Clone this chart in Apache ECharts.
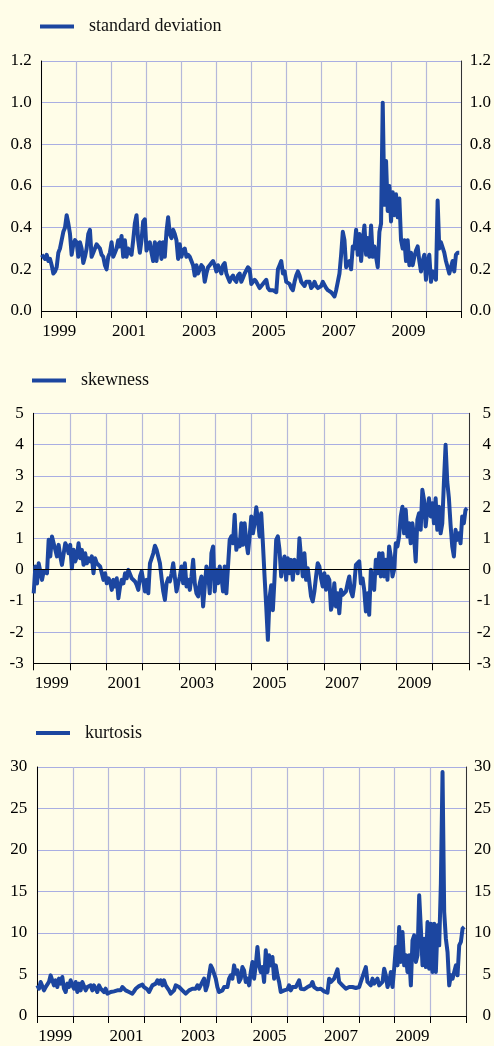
<!DOCTYPE html>
<html>
<head>
<meta charset="utf-8">
<script src="https://cdn.jsdelivr.net/npm/echarts@6/dist/echarts.min.js"></script>
<style>
  html, body { margin: 0; padding: 0; background: #fffde8; }
  #chart { width: 494px; height: 1046px; }
</style>
</head>
<body>
<div id="chart"></div>
<script>
// observations run evenly from the start of 1999 to late 2010
var DATE_START = 1999.0;
var DATE_END = 2010.95;
var YEARS = ['1999', '2000', '2001', '2002', '2003', '2004', '2005', '2006', '2007', '2008', '2009', '2010'];

var stdDev = [
  0.27,0.26,0.25,0.27,0.24,0.25,0.22,0.18,0.19,0.21,
  0.28,0.30,0.34,0.38,0.40,0.46,0.42,0.37,0.27,0.32,
  0.34,0.33,0.26,0.33,0.30,0.23,0.26,0.30,0.37,0.39,
  0.26,0.28,0.30,0.32,0.31,0.30,0.27,0.26,0.22,0.20,
  0.26,0.28,0.33,0.26,0.28,0.30,0.34,0.31,0.36,0.26,
  0.34,0.26,0.30,0.28,0.27,0.34,0.42,0.46,0.34,0.28,
  0.34,0.43,0.44,0.29,0.31,0.33,0.28,0.24,0.33,0.24,
  0.32,0.33,0.25,0.33,0.26,0.38,0.45,0.37,0.35,0.39,
  0.37,0.34,0.25,0.32,0.26,0.29,0.30,0.26,0.27,0.26,
  0.24,0.22,0.17,0.22,0.18,0.18,0.22,0.21,0.14,0.18,
  0.21,0.22,0.23,0.24,0.22,0.19,0.22,0.22,0.18,0.22,
  0.23,0.18,0.16,0.14,0.16,0.17,0.15,0.14,0.17,0.18,
  0.14,0.16,0.18,0.18,0.21,0.20,0.13,0.14,0.15,0.14,
  0.14,0.11,0.12,0.12,0.14,0.15,0.11,0.10,0.10,0.10,
  0.10,0.09,0.20,0.22,0.24,0.18,0.19,0.14,0.14,0.13,
  0.11,0.10,0.14,0.17,0.19,0.17,0.14,0.13,0.12,0.14,
  0.14,0.14,0.11,0.12,0.14,0.12,0.11,0.11,0.12,0.14,
  0.14,0.11,0.10,0.10,0.09,0.08,0.07,0.10,0.14,0.18,
  0.27,0.38,0.34,0.21,0.23,0.24,0.20,0.31,0.30,0.39,
  0.27,0.37,0.24,0.34,0.41,0.27,0.35,0.26,0.41,0.26,
  0.31,0.26,0.21,0.38,0.42,1.00,0.51,0.72,0.48,0.60,
  0.43,0.57,0.46,0.56,0.45,0.54,0.34,0.30,0.34,0.24,
  0.34,0.22,0.28,0.22,0.26,0.29,0.31,0.24,0.19,0.24,
  0.27,0.15,0.24,0.27,0.14,0.19,0.19,0.15,0.53,0.30,
  0.33,0.33,0.28,0.24,0.21,0.18,0.18,0.24,0.19,0.27,
  0.28,0.28
];

var skewness = [
  -0.76,0.10,-0.45,0.20,0.26,-0.33,-0.06,0.00,-0.12,0.95,
  0.42,1.06,1.06,0.63,0.42,0.79,0.42,0.15,0.10,0.84,
  0.74,0.52,0.79,0.04,0.63,0.26,0.42,0.84,0.36,0.63,
  0.15,0.52,0.20,0.36,0.26,0.42,-0.12,0.36,0.20,0.26,
  0.10,0.04,-0.33,-0.12,-0.44,-0.28,-0.38,-0.65,-0.33,-0.54,
  -0.28,-0.92,-0.54,-0.33,-0.44,-0.12,-0.28,-0.01,0.04,-0.28,
  -0.22,-0.38,-0.49,-0.65,-0.22,-0.06,-0.01,-0.70,-0.33,-0.76,
  0.20,0.36,0.52,0.76,0.63,0.42,0.20,-0.28,-0.70,-0.97,
  -0.44,-0.28,-0.38,-0.12,0.20,0.26,-0.70,-0.44,-0.22,0.10,
  -0.44,0.20,-0.54,-0.33,-0.65,-0.22,0.31,-0.44,-0.76,-0.86,
  -0.44,-0.22,-1.18,-0.54,0.10,-0.12,-0.76,0.52,0.74,-0.70,
  -0.01,-0.44,0.10,-0.22,-0.70,0.10,-0.76,0.10,0.95,1.06,
  0.84,1.75,0.63,0.95,0.74,1.48,0.79,1.48,0.90,0.52,
  1.06,1.70,1.16,1.48,1.99,1.59,1.06,1.80,0.84,-0.22,
  -1.18,-2.25,-0.90,-0.50,-1.30,-0.30,0.95,1.06,0.63,-0.22,
  0.20,0.42,-0.33,0.36,-0.12,0.31,-0.33,0.31,0.15,-0.12,
  1.00,0.36,-0.22,0.52,-0.33,0.04,-0.01,-0.86,-1.02,-0.70,
  -0.22,0.20,0.10,-0.28,-0.54,-0.12,-0.65,-0.22,-0.33,-1.29,
  -1.08,-0.44,-1.18,-0.76,-1.40,-0.65,-0.81,-0.76,-0.70,-0.44,
  -0.22,-0.70,-0.86,-0.49,0.15,0.10,0.26,-0.44,-0.28,-0.65,
  -1.34,-0.76,-1.45,-0.01,-0.44,-0.65,0.31,-0.12,0.52,-0.22,
  0.52,-0.22,0.31,-0.33,0.74,0.42,-0.22,-0.01,0.84,0.74,
  1.06,1.70,2.01,1.16,1.91,1.06,1.48,0.84,1.48,1.06,
  0.26,1.59,1.80,1.27,2.55,2.23,1.38,1.91,2.28,1.70,
  2.12,1.48,2.28,1.27,2.01,1.16,1.48,2.81,3.99,2.81,
  2.28,1.43,0.74,0.42,1.27,0.95,1.16,0.84,1.70,1.48,
  1.91,1.96
];

var kurtosis = [
  3.69,3.29,4.10,3.90,3.09,3.49,3.69,4.10,4.90,5.10,
  3.69,4.30,3.49,4.50,3.90,4.70,3.29,2.89,3.90,3.49,
  4.30,3.69,3.29,4.10,2.89,3.90,3.09,4.10,3.90,3.09,
  3.49,3.29,3.69,3.09,3.69,3.49,2.89,3.69,3.29,3.49,
  2.89,3.29,2.69,2.89,2.89,2.89,2.97,2.89,3.09,2.89,
  3.09,3.49,3.29,3.09,3.21,2.89,2.89,2.69,2.97,3.29,
  3.49,3.61,3.69,3.78,3.49,3.29,3.21,2.89,3.09,3.69,
  3.49,3.90,4.30,3.90,4.30,3.69,4.30,3.69,3.49,3.09,
  2.69,2.57,3.09,3.69,3.90,3.49,3.29,3.09,2.89,2.69,
  2.89,3.09,3.21,3.29,3.09,3.29,3.69,3.29,3.49,4.10,
  4.50,3.09,3.69,3.49,6.10,5.70,5.10,4.50,3.49,2.89,
  2.69,3.09,3.49,3.69,3.49,4.50,4.90,4.50,6.10,5.10,
  5.50,4.10,4.50,5.90,5.50,4.10,4.50,3.69,5.30,6.51,
  4.50,6.10,8.31,6.10,5.30,5.90,4.10,7.91,5.30,7.31,
  6.10,7.11,4.50,6.10,4.90,4.10,2.89,2.89,3.09,3.29,
  3.21,3.69,3.09,3.49,3.29,3.49,3.69,4.30,3.29,3.49,
  3.21,3.37,3.49,3.49,3.69,4.10,3.49,3.37,3.21,3.21,
  3.29,3.09,2.97,2.89,2.81,4.50,4.10,4.30,4.50,4.70,
  5.62,4.10,3.90,3.69,3.49,3.29,3.21,3.49,3.69,3.49,
  3.69,3.37,3.21,3.49,4.10,4.70,5.30,5.90,4.10,4.30,
  3.69,4.50,3.90,4.10,4.50,3.69,3.90,4.10,5.70,4.90,
  3.49,4.10,5.30,3.49,5.70,8.31,6.10,10.72,6.51,10.12,
  6.10,7.31,5.30,7.31,3.69,9.12,9.72,6.51,7.31,14.54,
  10.52,6.10,9.32,5.90,11.33,5.70,11.12,5.30,11.12,5.30,
  10.92,8.51,15.94,29.40,12.53,9.32,7.71,3.69,4.90,4.50,
  5.30,6.10,4.90,8.51,8.92,10.52,10.72
];

var LINE_COLOR = '#1c46a0';
var HGRID = '#a9aee2';
var VGRID = '#b5b8da';
var FONT = '"Liberation Serif", "Times New Roman", serif';

function toPairs(values) {
    var step = (DATE_END - DATE_START) / (values.length - 1);
    return values.map(function (v, i) {
        return [DATE_START + i * step, v];
    });
}

// one panel per statistic
var panels = [
    {name: 'standard deviation', values: stdDev, min: 0, max: 1.2, interval: 0.2, digits: 1,
        grid: {left: 41.7, top: 61, width: 420, height: 250}, legend: {left: 40, top: 17.5}, rightMargin: 30},
    {name: 'skewness', values: skewness, min: -3, max: 5, interval: 1, digits: 0,
        grid: {left: 33.7, top: 413.3, width: 436.3, height: 250}, legend: {left: 32, top: 371.5}, rightMargin: 22},
    {name: 'kurtosis', values: kurtosis, min: 0, max: 30, interval: 5, digits: 0,
        grid: {left: 37.3, top: 767, width: 429.4, height: 249}, legend: {left: 36, top: 724}, rightMargin: 25}
];

var option = {
    backgroundColor: '#fffde8',
    animation: false,
    grid: [],
    legend: [],
    xAxis: [],
    yAxis: [],
    series: []
};

panels.forEach(function (p, g) {
    option.grid.push(p.grid);
    option.legend.push({
        data: [p.name],
        left: p.legend.left,
        top: p.legend.top,
        padding: 0,
        icon: 'rect',
        itemWidth: 34,
        itemHeight: 4,
        selectedMode: false,
        textStyle: {fontFamily: FONT, fontSize: 18, color: '#111', padding: [0, 0, 0, 10]}
    });
    // value axis carrying the data, ticks and vertical grid
    option.xAxis.push({
        type: 'value', gridIndex: g, min: 1999, max: 2011, interval: 1,
        axisLine: {onZero: false, lineStyle: {color: '#000', width: 1}},
        axisTick: {length: 7, lineStyle: {color: '#000', width: 1}},
        axisLabel: {show: false},
        splitLine: {show: true, lineStyle: {color: VGRID, width: 1.2}}
    });
    // year labels centred in each year
    option.xAxis.push({
        type: 'category', gridIndex: g, data: YEARS, boundaryGap: true, position: 'bottom',
        axisLine: {show: false}, axisTick: {show: false}, splitLine: {show: false},
        axisLabel: {interval: 1, margin: 12, fontFamily: FONT, fontSize: 17, color: '#000'}
    });
    var fmt = function (v) { return v.toFixed(p.digits); };
    option.yAxis.push({
        type: 'value', gridIndex: g, position: 'left', min: p.min, max: p.max, interval: p.interval,
        axisLine: {show: true, onZero: false, lineStyle: {color: '#000', width: 1}},
        axisTick: {show: false},
        axisLabel: {margin: 10, fontFamily: FONT, fontSize: 17, color: '#000', formatter: fmt},
        splitLine: {show: true, lineStyle: {color: HGRID, width: 1}}
    });
    option.yAxis.push({
        type: 'value', gridIndex: g, position: 'right', min: p.min, max: p.max, interval: p.interval,
        axisLine: {show: true, onZero: false, lineStyle: {color: '#333', width: 1}},
        axisTick: {show: false},
        axisLabel: {margin: p.rightMargin, align: 'right', fontFamily: FONT, fontSize: 17, color: '#000', formatter: fmt},
        splitLine: {show: false}
    });
    var s = {
        name: p.name,
        type: 'line',
        xAxisIndex: 2 * g,
        yAxisIndex: 2 * g,
        data: toPairs(p.values),
        showSymbol: false,
        color: LINE_COLOR,
        lineStyle: {color: LINE_COLOR, width: 4, join: 'round'}
    };
    if (p.min < 0) {
        s.markLine = {
            silent: true, symbol: 'none', label: {show: false},
            lineStyle: {color: '#000', width: 1, type: 'solid'},
            data: [{yAxis: 0}]
        };
    }
    option.series.push(s);
});

var chart = echarts.init(document.getElementById('chart'));
chart.setOption(option);
</script>
</body>
</html>
